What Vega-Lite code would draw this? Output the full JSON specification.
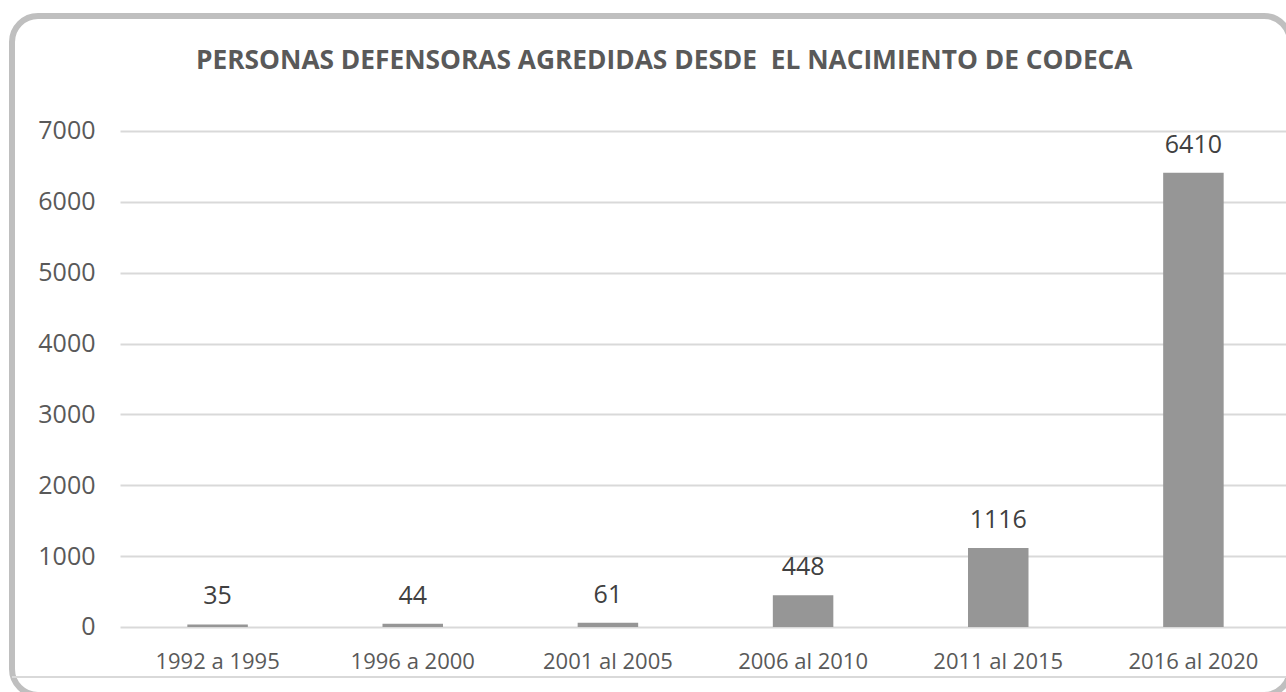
{
  "$schema": "https://vega.github.io/schema/vega-lite/v6.json",
  "width": 1278,
  "height": 679,
  "autosize": {"type": "none"},
  "padding": {"left": 12, "top": 16, "right": -4, "bottom": -3},
  "background": "white",
  "config": {
    "font": "Open Sans",
    "view": {"stroke": "#bfbfbf", "strokeWidth": 6, "cornerRadius": 26}
  },
  "title": {
    "text": "PERSONAS DEFENSORAS AGREDIDAS DESDE\u00a0 EL NACIMIENTO DE CODECA",
    "anchor": "start",
    "frame": "group",
    "baseline": "alphabetic",
    "offset": -79,
    "dx": 184,
    "fontSize": 26.3,
    "fontWeight": "bold",
    "color": "#595959",
    "font": "Open Sans"
  },
  "data": {
    "values": [
      {"periodo": "1992 a 1995", "valor": 35},
      {"periodo": "1996 a 2000", "valor": 44},
      {"periodo": "2001 al 2005", "valor": 61},
      {"periodo": "2006 al 2010", "valor": 448},
      {"periodo": "2011 al 2015", "valor": 1116},
      {"periodo": "2016 al 2020", "valor": 6410}
    ]
  },
  "encoding": {
    "x": {
      "field": "periodo",
      "type": "nominal",
      "sort": null,
      "scale": {"range": [108, 1279], "paddingInner": 0.69, "paddingOuter": 0.345},
      "axis": {
        "title": null,
        "orient": "bottom",
        "offset": -68,
        "domain": false,
        "ticks": false,
        "grid": false,
        "labelAngle": 0,
        "labelFontSize": 22,
        "labelColor": "#595959",
        "labelBaseline": "alphabetic",
        "labelPadding": 41
      }
    },
    "y": {
      "field": "valor",
      "type": "quantitative",
      "scale": {"domain": [-960, 8623], "nice": false, "zero": false},
      "axis": {
        "title": null,
        "values": [0, 1000, 2000, 3000, 4000, 5000, 6000, 7000],
        "format": "d",
        "offset": -83,
        "domain": false,
        "ticks": false,
        "labelPadding": 0,
        "labelFontSize": 25,
        "labelColor": "#595959",
        "grid": true,
        "gridColor": "#d9d9d9",
        "gridWidth": 2
      }
    }
  },
  "layer": [
    {
      "mark": {"type": "rule", "color": "#d9d9d9", "strokeWidth": 2},
      "encoding": {
        "x": null,
        "y": {"datum": -705, "type": "quantitative"}
      }
    },
    {
      "mark": {"type": "bar", "color": "#969696"},
      "encoding": {
        "y2": {"datum": 0}
      }
    },
    {
      "mark": {"type": "text", "baseline": "alphabetic", "dy": -20, "fontSize": 25, "color": "#404040"},
      "encoding": {"text": {"field": "valor", "type": "quantitative", "format": "d"}}
    }
  ]
}
